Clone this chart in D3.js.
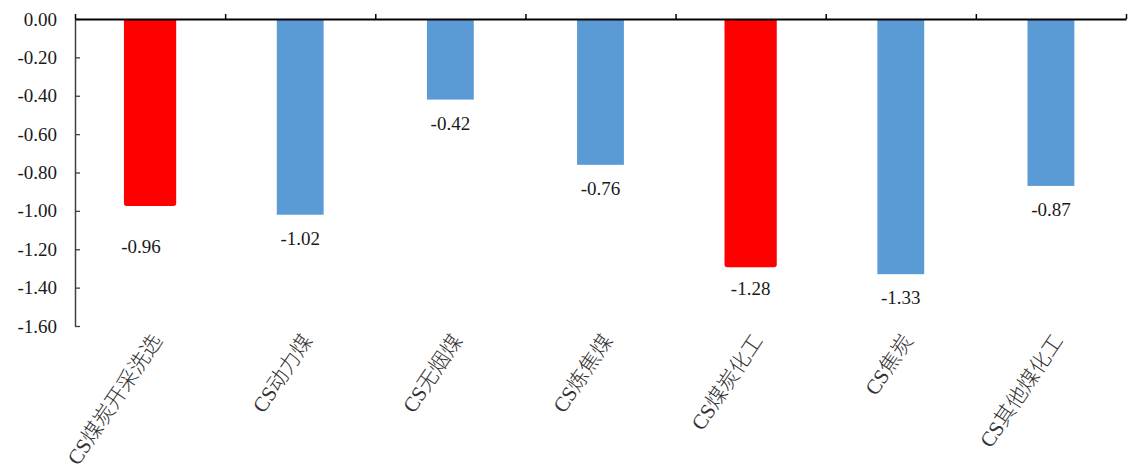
<!DOCTYPE html>
<html>
<head>
<meta charset="utf-8">
<script src="https://cdn.jsdelivr.net/npm/d3@7/dist/d3.min.js"></script>
<style>
  html, body { margin: 0; padding: 0; background: #fff; }
  svg { display: block; }
  text { font-family: "Liberation Serif", "Noto Sans CJK SC", serif; }
</style>
</head>
<body>
<svg id="chart" width="1144" height="475"></svg>
<script>
// Sector returns (%), CS coal sub-industries
const categories = ["CS煤炭开采洗选", "CS动力煤", "CS无烟煤", "CS炼焦煤", "CS煤炭化工", "CS焦炭", "CS其他煤化工"];
const values = [-0.96, -1.02, -0.42, -0.76, -1.28, -1.33, -0.87];
const highlighted = ["CS煤炭开采洗选", "CS煤炭化工"];
const yTicks = [0, -0.2, -0.4, -0.6, -0.8, -1.0, -1.2, -1.4, -1.6];

const W = 1144, H = 475;
const m = { left: 75, right: 18, top: 19, bottom: 149 };
const svg = d3.select("#chart");
const fmt = v => v.toFixed(2);

const x = d3.scaleBand().domain(categories).range([m.left, W - m.right]).padding(0);
const xEdges = d3.scaleLinear().domain([0, categories.length]).range([m.left, W - m.right]);
const y = d3.scaleLinear().domain([0, -1.6]).range([m.top, H - m.bottom]);

const barW = x.bandwidth() * 0.312;
const RED = "#FF0000", BLUE = "#5B9BD5";

// keep bar outlines from poking above the zero line
svg.append("defs").append("clipPath").attr("id", "plot-clip")
  .append("rect")
  .attr("x", m.left).attr("y", y(0))
  .attr("width", W - m.left - m.right).attr("height", H - m.top);

// bars
svg.append("g").attr("clip-path", "url(#plot-clip)").selectAll("rect")
  .data(categories.map((c, i) => ({ c, v: values[i], hi: highlighted.includes(c) })))
  .join("rect")
  .attr("x", d => x(d.c) + x.bandwidth() / 2 - barW / 2)
  .attr("y", y(0))
  .attr("width", barW)
  .attr("height", d => y(d.v) - y(0))
  .attr("fill", d => d.hi ? RED : BLUE)
  .attr("stroke", d => d.hi ? RED : "none")
  .attr("stroke-width", d => d.hi ? 5.4 : 0)
  .attr("stroke-linejoin", "round");

// value labels under each bar end
const labelShift = { "CS煤炭开采洗选": [-9, 20] };
svg.append("g").selectAll("text")
  .data(categories.map((c, i) => ({ c, v: values[i] })))
  .join("text")
  .attr("x", d => x(d.c) + x.bandwidth() / 2 + (labelShift[d.c] ? labelShift[d.c][0] : 0))
  .attr("y", d => y(d.v) + 30 + (labelShift[d.c] ? labelShift[d.c][1] : 0))
  .attr("text-anchor", "middle")
  .attr("font-size", 19)
  .attr("fill", "#1a1a1a")
  .text(d => fmt(d.v));

// y axis (ticks point inward)
const yAxis = svg.append("g")
  .attr("transform", `translate(${m.left},0)`)
  .call(d3.axisLeft(y).tickValues(yTicks).tickFormat(fmt).tickSizeInner(-5).tickSizeOuter(0).tickPadding(18));
yAxis.select(".domain").attr("stroke", "#404040").attr("stroke-width", 1.5);
yAxis.selectAll(".tick line").attr("stroke", "#404040").attr("stroke-width", 1.3);
yAxis.selectAll(".tick text")
  .attr("font-size", 19)
  .attr("fill", "#1a1a1a")
  .style("font-family", "'Liberation Serif', serif");

// category axis along the zero line, ticks at category edges
const xAxis = svg.append("g")
  .attr("transform", `translate(0,${y(0)})`)
  .call(d3.axisTop(xEdges).tickValues(d3.range(categories.length + 1)).tickFormat("").tickSizeInner(5).tickSizeOuter(0));
xAxis.select(".domain").attr("stroke", "#000").attr("stroke-width", 2);
xAxis.selectAll(".tick line").attr("stroke", "#000").attr("stroke-width", 1.5);

// rotated category labels
svg.append("g").selectAll("text")
  .data(categories)
  .join("text")
  .attr("transform", c => `translate(${x(c) + x.bandwidth() / 2 + 9},${H - m.bottom + 12}) rotate(-56)`)
  .attr("text-anchor", "end")
  .attr("dominant-baseline", "middle")
  .attr("font-size", 21)
  .attr("font-weight", 300)
  .attr("fill", "#333")
  .text(c => c);
</script>
</body>
</html>
